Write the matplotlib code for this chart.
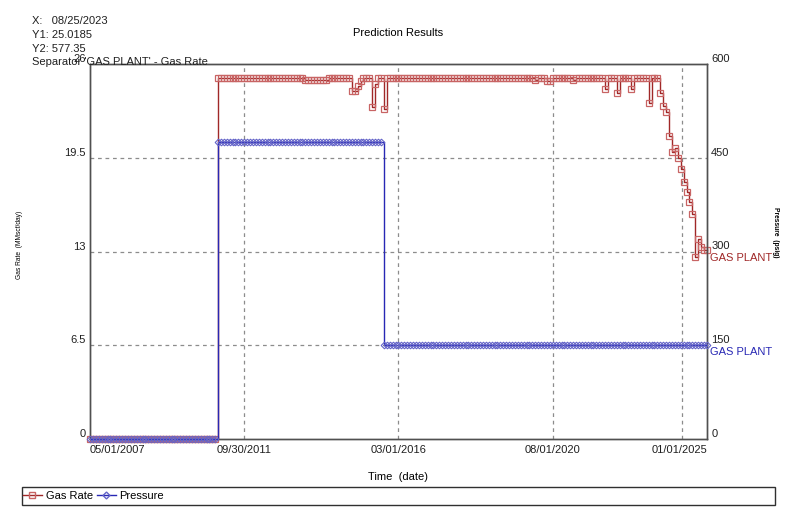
import matplotlib
matplotlib.use("Agg")
import matplotlib.pyplot as plt
from matplotlib.lines import Line2D
from matplotlib.patches import Rectangle
import pandas as pd

plt.rcParams['font.family'] = ['Liberation Sans', 'DejaVu Sans']

#################################################
# DATA
#################################################

# monthly time axis of the prediction
start_date = '2007-05-01'
end_date = '2025-01-01'

# gas rate (MMscf/day) : value holds from the date until the next change
gas_dates = ['2007-05-01', '2011-01-01', '2013-07-01', '2014-03-01', '2014-11-01',
             '2015-01-01', '2015-02-01', '2015-03-01', '2015-06-01', '2015-07-01',
             '2015-08-01', '2015-10-01', '2015-11-01', '2020-02-01', '2020-03-01',
             '2020-06-01', '2020-08-01', '2021-03-01', '2021-04-01', '2022-02-01',
             '2022-03-01', '2022-06-01', '2022-07-01', '2022-11-01', '2022-12-01',
             '2023-05-01', '2023-06-01', '2023-09-01', '2023-10-01', '2023-11-01',
             '2023-12-01', '2024-01-01', '2024-02-01', '2024-03-01', '2024-04-01',
             '2024-05-01', '2024-06-01', '2024-07-01', '2024-08-01', '2024-09-01',
             '2024-10-01', '2024-11-01', '2024-12-01']
gas_values = [0.0, 25.0, 24.9, 25.0, 24.1,
              24.5, 24.8, 25.0, 23.0, 24.6,
              25.0, 22.9, 25.0, 24.9, 25.0,
              24.8, 25.0, 24.9, 25.0, 24.3,
              25.0, 24.0, 25.0, 24.3, 25.0,
              23.3, 25.0, 24.0, 23.1, 22.7,
              21.0, 19.9, 20.2, 19.5, 18.7,
              17.8, 17.1, 16.4, 15.6, 12.6,
              13.9, 13.3, 13.1]

# pressure (psig)
pres_dates = ['2007-05-01', '2011-01-01', '2015-10-01']
pres_values = [0.0, 475.0, 150.0]

# axis ticks
x_ticks = ['2007-05-01', '2011-09-30', '2016-03-01', '2020-08-01', '2025-01-01']
x_ticklabels = ['05/01/2007', '09/30/2011', '03/01/2016', '08/01/2020', '01/01/2025']
y1_ticks = [0, 6.5, 13, 19.5, 26]
y1_ticklabels = ['0', '6.5', '13', '19.5', '26']
y2_ticks = [0, 150, 300, 450, 600]

info_lines = ['X:   08/25/2023', 'Y1: 25.0185', 'Y2: 577.35']

#################################################
# BUILD MONTHLY STEP SERIES
#################################################

months = pd.date_range(start_date, end_date, freq='MS')


def stepSeries(dates, values):
    """hold each value until the next change date"""
    s = pd.Series(values, index=pd.to_datetime(dates))
    return s.reindex(months, method='ffill')


gas = stepSeries(gas_dates, gas_values)
pres = stepSeries(pres_dates, pres_values)

#################################################
# PLOT
#################################################

GAS_LINE = '#a02828'
GAS_MARK = '#c86464'
PRES_LINE = '#2828b4'
PRES_MARK = '#6464c8'
GRID = '#8c8c8c'
SPINE = '#505050'

fig = plt.figure(figsize=(7.95, 5.07), dpi=100)
ax1 = fig.add_axes([90 / 795, 1 - 439 / 507, 617 / 795, 375 / 507])
ax2 = ax1.twinx()

ax1.plot(months, gas.values, color=GAS_LINE, lw=1.0, drawstyle='steps-post',
         marker='s', ms=4.5, mfc='none', mec=GAS_MARK, mew=0.9, clip_on=False, zorder=3)
ax2.plot(months, pres.values, color=PRES_LINE, lw=1.0, drawstyle='steps-post',
         marker='D', ms=3.4, mfc='none', mec=PRES_MARK, mew=0.8, clip_on=False, zorder=4)

ax1.set_xlim(pd.Timestamp(start_date), pd.Timestamp(end_date))
ax1.set_ylim(0, 26)
ax2.set_ylim(0, 600)

# dashed grid
for v in y1_ticks[1:-1]:
    ax1.axhline(v, color=GRID, lw=0.9, ls=(0, (3, 3)), zorder=1)
for d in x_ticks[1:-1] + ['2024-04-10']:
    ax1.axvline(pd.Timestamp(d), color=GRID, lw=0.9, ls=(0, (3, 3)), zorder=1)

# ticks
ax1.set_xticks(pd.to_datetime(x_ticks))
ax1.set_xticklabels(x_ticklabels)
ax1.tick_params(axis='x', length=0, pad=4, labelsize=8, labelcolor='#202020')
xl = ax1.get_xticklabels()
xl[0].set_ha('left')
xl[-1].set_ha('right')

ax1.set_yticks(y1_ticks)
ax1.set_yticklabels(y1_ticklabels)
ax1.tick_params(axis='y', length=0, pad=3, labelsize=8, labelcolor='#202020')
for lab in ax1.get_yticklabels():
    lab.set_va('bottom')

ax2.set_yticks(y2_ticks)
ax2.tick_params(axis='y', length=0, pad=3, labelsize=8, labelcolor='#202020')
for lab in ax2.get_yticklabels():
    lab.set_va('bottom')

for ax in (ax1, ax2):
    for sp in ax.spines.values():
        sp.set_color(SPINE)
        sp.set_linewidth(1.0)

# axis titles
fig.text(20 / 795, 1 - 245 / 507, 'Gas Rate  (MMscf/day)', rotation=90,
         ha='center', va='center', fontsize=4.8)
fig.text(776 / 795, 1 - 232 / 507, 'Pressure  (psig)', rotation=-90,
         ha='center', va='center', fontsize=4.8, fontweight='bold')
fig.text(398 / 795, 1 - 477 / 507, 'Time  (date)', ha='center', va='center', fontsize=8)
fig.text(398 / 795, 1 - 33 / 507, 'Prediction Results', ha='center', va='center', fontsize=8)

# end labels of the curves
ax1.annotate('GAS PLANT', xy=(1, gas.values[-1]), xycoords=('axes fraction', 'data'),
             xytext=(3, -8), textcoords='offset pixels', color=GAS_LINE,
             ha='left', va='center', fontsize=8, annotation_clip=False)
ax2.annotate('GAS PLANT', xy=(1, pres.values[-1]), xycoords=('axes fraction', 'data'),
             xytext=(3, -7), textcoords='offset pixels', color=PRES_LINE,
             ha='left', va='center', fontsize=8, annotation_clip=False)

# cursor read-out
for i, t in enumerate(info_lines):
    fig.text(32 / 795, 1 - (21 + 14 * i) / 507, t, ha='left', va='center',
             fontsize=8, color='#202020')
fig.text(32 / 795, 1 - 62 / 507, "Separator 'GAS PLANT' - Gas Rate", ha='left',
         va='center', fontsize=8, color='#202020', zorder=10)

# legend box
fig.patches.append(Rectangle((22 / 795, 1 - 505 / 507), 753 / 795, 18 / 507,
                             transform=fig.transFigure, fill=False, ec='#303030', lw=1.0))
handles = [Line2D([], [], color=GAS_LINE, lw=1.0, marker='s', ms=4, mfc='none', mec=GAS_MARK),
           Line2D([], [], color=PRES_LINE, lw=1.0, marker='D', ms=3.5, mfc='none', mec=PRES_MARK)]
fig.legend(handles, ['Gas Rate', 'Pressure'], loc='center left',
           bbox_to_anchor=(23 / 795, 1 - 496 / 507), ncol=2, frameon=False,
           fontsize=8, handlelength=1.7, handletextpad=0.35, columnspacing=0.35,
           borderpad=0, borderaxespad=0)

fig.savefig('out.png', dpi=100)
